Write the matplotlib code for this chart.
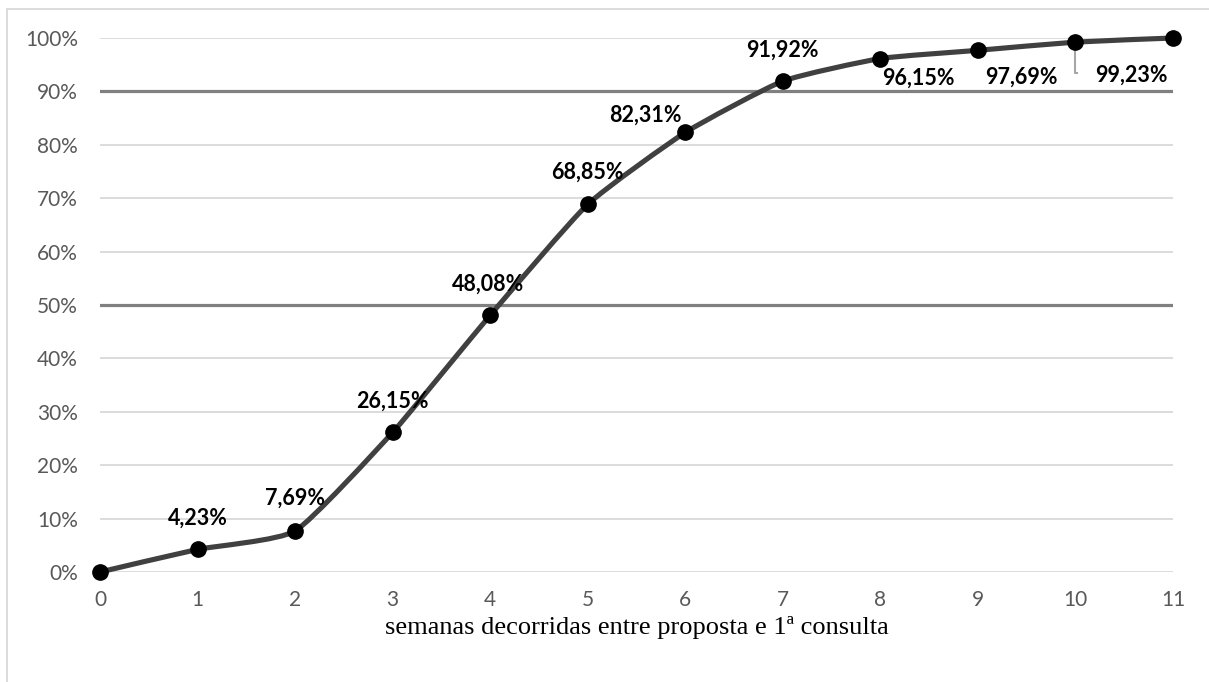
import numpy as np
import matplotlib.pyplot as plt
from matplotlib.path import Path
from matplotlib.patches import PathPatch, Rectangle

# semanas decorridas e percentagem acumulada
semanas = [0, 1, 2, 3, 4, 5, 6, 7, 8, 9, 10, 11]
acumulado = [0.0, 4.23, 7.69, 26.15, 48.08, 68.85, 82.31, 91.92, 96.15, 97.69, 99.23, 100.0]
rotulos = ['', '4,23%', '7,69%', '26,15%', '48,08%', '68,85%', '82,31%',
           '91,92%', '96,15%', '97,69%', '99,23%', '']
# deslocamento de cada rotulo em pixels (dx, dy)
desloc = [None, (0, 31), (0, 33), (0, 31), (-2, 31), (0, 32), (-40, 17),
          (0, 31), (38, -20), (43, -27), (56, -33), None]
linhas_ref = [50, 90]

plt.rcParams['font.family'] = ['Lato', 'DejaVu Sans']

fig = plt.figure(figsize=(12.09, 6.82), dpi=100)
ax = fig.add_axes([100 / 1209, 1 - 572 / 682, 1073 / 1209, 534 / 682])

# moldura do grafico
fig.patches.append(Rectangle((7 / 1209, -0.1), 1.2, 1 - 9 / 682 + 0.1,
                             transform=fig.transFigure, fill=False,
                             edgecolor='#D9D9D9', linewidth=1.3))

x = np.array(semanas, dtype=float)
y = np.array(acumulado) / 100

# curva levemente suavizada (segmentos bezier)
k = 1 / 12
verts = [(x[0], y[0])]
codes = [Path.MOVETO]
n = len(x)
for i in range(n - 1):
    x0, y0 = (x[i - 1], y[i - 1]) if i > 0 else (x[i], y[i])
    x3, y3 = (x[i + 2], y[i + 2]) if i + 2 < n else (x[i + 1], y[i + 1])
    c1 = (x[i] + (x[i + 1] - x0) * k, y[i] + (y[i + 1] - y0) * k)
    c2 = (x[i + 1] - (x3 - x[i]) * k, y[i + 1] - (y3 - y[i]) * k)
    verts += [c1, c2, (x[i + 1], y[i + 1])]
    codes += [Path.CURVE4] * 3
ax.add_patch(PathPatch(Path(verts, codes), facecolor='none', edgecolor='#404040',
                       linewidth=3.7, capstyle='round', joinstyle='round',
                       zorder=3, clip_on=False))
ax.plot(x, y, linestyle='none', marker='o', markersize=11, color='black',
        zorder=4, clip_on=False)

for xi, yi, txt, d in zip(x, y, rotulos, desloc):
    if not txt:
        continue
    ax.annotate(txt, (xi, yi), xytext=(d[0], d[1]), textcoords='offset pixels',
                ha='center', va='center', fontsize=15.5, fontweight='bold',
                color='black', zorder=5)

# linha de chamada do rotulo 99,23%
p = ax.transData.transform((x[10], y[10]))
inv = ax.transData.inverted()
a = inv.transform((p[0], p[1] - 31))
b = inv.transform((p[0] + 12, p[1] - 31))
ax.plot([x[10], a[0], b[0]], [y[10], a[1], b[1]], color='#A6A6A6', linewidth=1.5,
        zorder=2.5)

ax.set_xlim(0, 11)
ax.set_ylim(0, 1)
ax.set_xticks(semanas)
ax.set_yticks(np.arange(0, 1.01, 0.1))
ax.set_yticklabels([f'{v}%' for v in range(0, 101, 10)])
ax.grid(axis='y', color='#D9D9D9', linewidth=1.3, zorder=0)
for v in linhas_ref:
    ax.axhline(v / 100, color='#808080', linewidth=2.3, zorder=1)
ax.tick_params(axis='both', length=0, labelsize=15, labelcolor='#595959')
ax.tick_params(axis='y', pad=16)
ax.tick_params(axis='x', pad=13)
for s in ax.spines.values():
    s.set_visible(False)
ax.set_axisbelow(True)

ax.set_xlabel('semanas decorridas entre proposta e 1ª consulta',
              family=['Liberation Serif', 'DejaVu Serif'], fontsize=19,
              color='black', labelpad=4)

fig.savefig('out.png', dpi=100)
